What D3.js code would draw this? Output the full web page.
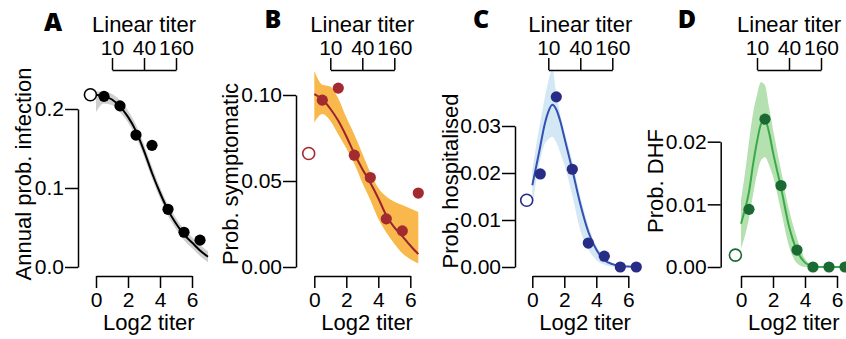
<!DOCTYPE html>
<html>
<head>
<meta charset="utf-8">
<script src="https://cdn.jsdelivr.net/npm/d3@7"></script>
<style>
body { margin: 0; background: #fff; }
text { font-family: "Liberation Sans", Arial, Helvetica, sans-serif; }
.letter { font-family: "Open Sans", "Liberation Sans", sans-serif; font-weight: 800; }
</style>
</head>
<body>
<svg width="846" height="339"></svg>
<script>
// observed points: log2 titer bins, plus the naive (open circle) point
var binX = [0.5, 1.5, 2.5, 3.5, 4.5, 5.5, 6.5];
var naiveX = -0.35;

var infY  = [0.216, 0.204, 0.167, 0.154, 0.073, 0.044, 0.034];
var infNaive = 0.218;
var symY  = [0.097, 0.104, 0.065, 0.052, 0.028, 0.021, 0.043];
var symNaive = 0.066;
var hospY = [0.0198, 0.0362, 0.0208, 0.0051, 0.0023, 0, 0];
var hospNaive = 0.0142;
var dhfY  = [0.0092, 0.0236, 0.013, 0.0027, 0, 0, 0];
var dhfNaive = 0.0019;

// fitted curves and credible bands
var fitXA = [0, 0.5, 1, 1.5, 2, 2.5, 3, 3.5, 4, 4.5, 5, 5.5, 6, 6.5, 7];
var infFit = [0.218, 0.216, 0.212, 0.203, 0.190, 0.172, 0.147, 0.119, 0.094, 0.072, 0.055, 0.041, 0.031, 0.021, 0.013];
var infLo  = [0.196, 0.207, 0.205, 0.196, 0.183, 0.165, 0.140, 0.112, 0.087, 0.065, 0.048, 0.034, 0.024, 0.014, 0.006];
var infHi  = [0.222, 0.222, 0.219, 0.211, 0.198, 0.180, 0.155, 0.127, 0.101, 0.079, 0.062, 0.048, 0.038, 0.028, 0.020];

var fitXB = [0, 0.5, 1, 1.5, 2, 2.5, 3, 3.5, 4, 4.5, 5, 5.5, 6, 6.5];
var symFit = [0.1005, 0.0975, 0.092, 0.085, 0.076, 0.066, 0.057, 0.049, 0.040, 0.030, 0.023, 0.018, 0.0125, 0.0075];
var symLo  = [0.084, 0.089, 0.085, 0.077, 0.069, 0.060, 0.049, 0.039, 0.028, 0.020, 0.0135, 0.008, 0.0045, 0.002];
var symHi  = [0.114, 0.106, 0.105, 0.098, 0.087, 0.077, 0.066, 0.055, 0.046, 0.041, 0.038, 0.036, 0.034, 0.032];

var fitXC = [0, 0.25, 0.5, 0.75, 1, 1.25, 1.5, 1.75, 2, 2.5, 3, 3.5, 4, 4.5, 5, 5.5, 6, 6.5];
var hospFit = [0.0174, 0.0215, 0.0257, 0.030, 0.033, 0.0345, 0.0335, 0.031, 0.0276, 0.0207, 0.0134, 0.0075, 0.0037, 0.0015, 0.0006, 0.0002, 0.0001, 0];
var hospLo  = [0.0128, 0.0185, 0.0228, 0.026, 0.0272, 0.0277, 0.0265, 0.0243, 0.0218, 0.0152, 0.0078, 0.0038, 0.0015, 0.0005, 0.0001, 0, 0, 0];
var hospHi  = [0.0206, 0.026, 0.031, 0.0355, 0.0395, 0.042, 0.037, 0.0325, 0.029, 0.0225, 0.015, 0.0088, 0.0045, 0.0022, 0.0009, 0.0003, 0.0001, 0];

var fitXD = [0, 0.25, 0.5, 0.75, 1, 1.25, 1.5, 1.75, 2, 2.5, 3, 3.5, 4, 4.5, 5, 5.5, 6, 6.6];
var dhfFit = [0.0069, 0.0092, 0.012, 0.0163, 0.020, 0.0228, 0.0235, 0.0215, 0.0183, 0.0127, 0.0065, 0.0026, 0.0007, 0.0001, 0, 0, 0, 0];
var dhfLo  = [0.003, 0.005, 0.0078, 0.0115, 0.0148, 0.017, 0.0175, 0.0163, 0.0145, 0.009, 0.0033, 0.0006, 0, 0, 0, 0, 0, 0];
var dhfHi  = [0.0107, 0.015, 0.020, 0.0245, 0.0275, 0.0295, 0.029, 0.0255, 0.022, 0.0155, 0.0092, 0.0046, 0.0013, 0.0003, 0, 0, 0, 0];

// axis ticks
var log2Ticks = [0, 2, 4, 6];
var linearTicks = [1, 3, 5];   // log2 positions of titers 10, 40, 160

var svg = d3.select("svg");

var panels = [
  {letter: "A", ylab: "Annual prob. infection", x0: 96, yAxisX: 78, yTopPx: 109, yMax: 0.2, yTicks: [0, 0.1, 0.2], fmt: ".1f",
   pts: infY, naive: infNaive, fx: fitXA, fit: infFit, lo: infLo, hi: infHi,
   pt: "#000", line: "#000", band: "#cfcfcf", letterX: 53, letterY: 31, ylabX: 23, ylabY: 174},
  {letter: "B", ylab: "Prob. symptomatic", x0: 314.3, yAxisX: 296, yTopPx: 95, yMax: 0.10, yTicks: [0, 0.05, 0.10], fmt: ".2f",
   pts: symY, naive: symNaive, fx: fitXB, fit: symFit, lo: symLo, hi: symHi,
   pt: "#a32a2e", line: "#9a2232", band: "#f9b84c", letterX: 273, letterY: 28, ylabX: 230, ylabY: 174},
  {letter: "C", ylab: "Prob. hospitalised", x0: 532.3, yAxisX: 515, yTopPx: 126, yMax: 0.03, yTicks: [0, 0.01, 0.02, 0.03], fmt: ".2f",
   pts: hospY, naive: hospNaive, fx: fitXC, fit: hospFit, lo: hospLo, hi: hospHi,
   pt: "#272c86", line: "#3450b2", band: "#d3e8f4", letterX: 481, letterY: 28, ylabX: 450, ylabY: 181},
  {letter: "D", ylab: "Prob. DHF", x0: 741, yAxisX: 720.7, yTopPx: 141.7, yMax: 0.02, yTicks: [0, 0.01, 0.02], fmt: ".2f",
   pts: dhfY, naive: dhfNaive, fx: fitXD, fit: dhfFit, lo: dhfLo, hi: dhfHi,
   pt: "#1b6a33", line: "#38ab48", band: "#b5e1b0", letterX: 687, letterY: 28, ylabX: 655, ylabY: 181}
];

var bottomY = 267;
var xAxisY = 276;
var topAxisY = 70;

panels.forEach(function(p) {
  var g = svg.append("g");

  var x = d3.scaleLinear().domain([0, 6]).range([p.x0, p.x0 + 96]);
  var y = d3.scaleLinear().domain([0, p.yMax]).range([bottomY, p.yTopPx]);

  // band
  var rows = p.fx.map(function(v, i) { return {x: v, f: p.fit[i], lo: p.lo[i], hi: p.hi[i]}; });
  g.append("path")
    .datum(rows)
    .attr("fill", p.band)
    .attr("d", d3.area()
      .x(d => x(d.x))
      .y0(d => y(d.lo))
      .y1(d => y(d.hi))
      .curve(d3.curveMonotoneX));

  // fitted line
  g.append("path")
    .datum(rows)
    .attr("fill", "none")
    .attr("stroke", p.line)
    .attr("stroke-width", 2)
    .attr("d", d3.line()
      .x(d => x(d.x))
      .y(d => y(d.f))
      .curve(d3.curveMonotoneX));

  // points
  g.selectAll("circle.obs")
    .data(p.pts)
    .enter()
    .append("circle")
    .attr("class", "obs")
    .attr("cx", (d, i) => x(binX[i]))
    .attr("cy", d => y(d))
    .attr("r", 5.6)
    .attr("fill", p.pt);

  g.append("circle")
    .attr("cx", x(naiveX))
    .attr("cy", y(p.naive))
    .attr("r", 6)
    .attr("fill", "#fff")
    .attr("stroke", p.pt)
    .attr("stroke-width", 1.6);

  // left axis
  var yAx = g.append("g")
    .attr("transform", "translate(" + p.yAxisX + ",0)")
    .call(d3.axisLeft(y).tickValues(p.yTicks).tickFormat(d3.format(p.fmt)).tickSize(13).tickSizeOuter(0).tickPadding(1));

  // bottom axis
  var xAx = g.append("g")
    .attr("transform", "translate(0," + xAxisY + ")")
    .call(d3.axisBottom(x).tickValues(log2Ticks).tickFormat(d3.format("d")).tickSize(12).tickSizeOuter(0).tickPadding(4));

  // top axis: linear titer
  var xt = d3.scaleLinear().domain([1, 5]).range([x(1), x(5)]);
  var tAx = g.append("g")
    .attr("transform", "translate(0," + topAxisY + ")")
    .call(d3.axisTop(xt).tickValues(linearTicks).tickFormat(d => 5 * Math.pow(2, d)).tickSize(12).tickSizeOuter(0).tickPadding(3));

  [yAx, xAx, tAx].forEach(function(a) {
    a.selectAll("path, line").attr("stroke", "#000").attr("stroke-width", 1.5);
    a.selectAll("text").attr("font-size", 21).attr("fill", "#000")
      .style("font-family", '"Liberation Sans", Arial, sans-serif');
  });

  g.append("text")
    .attr("x", x(3))
    .attr("y", 32)
    .attr("text-anchor", "middle")
    .attr("font-size", 22)
    .text("Linear titer");

  g.append("text")
    .attr("x", x(3.3))
    .attr("y", 330)
    .attr("text-anchor", "middle")
    .attr("font-size", 22)
    .text("Log2 titer");

  g.append("text")
    .attr("transform", "translate(" + p.ylabX + "," + p.ylabY + ") rotate(-90)")
    .attr("dy", "0.35em")
    .attr("text-anchor", "middle")
    .attr("font-size", 22)
    .text(p.ylab);

  g.append("text")
    .attr("class", "letter")
    .attr("x", p.letterX)
    .attr("y", p.letterY)
    .attr("text-anchor", "middle")
    .attr("font-size", 25)
    .text(p.letter);
});
</script>
</body>
</html>
